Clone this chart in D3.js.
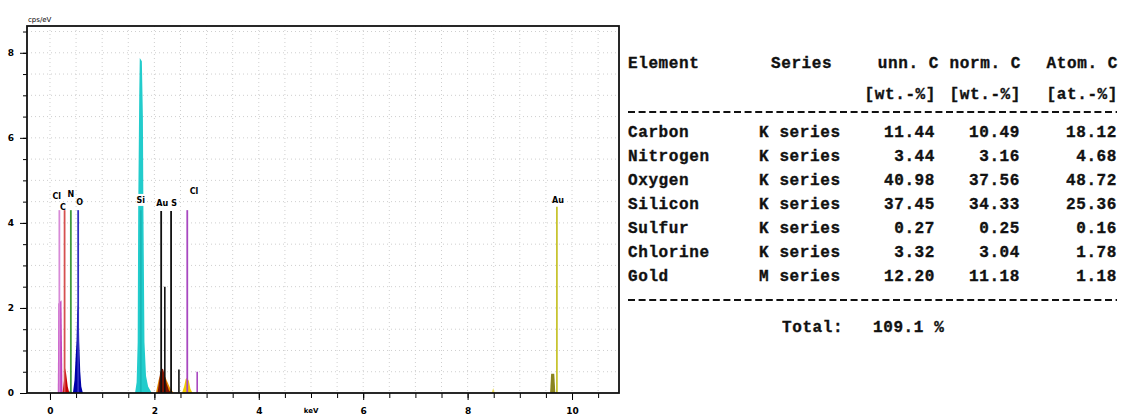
<!DOCTYPE html>
<html>
<head>
<meta charset="utf-8">
<script src="https://cdn.jsdelivr.net/npm/d3@7"></script>
<style>
  body { margin: 0; background: #fff; }
  svg { display: block; }
  .tick text { font-family: "DejaVu Sans", sans-serif; font-weight: bold; font-size: 9px; }
  .tbl { font-family: "Liberation Mono", "DejaVu Sans Mono", monospace; font-weight: bold; font-size: 16px; fill: #111; letter-spacing: 0.6px; stroke: #111; stroke-width: 0.35px; }
</style>
</head>
<body>
<div id="chart"></div>
<script>
var W = 1121, H = 417

// spectrum axes
var xMajor = [0, 2, 4, 6, 8, 10]
var yMajor = [0, 2, 4, 6, 8]

// element marker lines (keV, cps/eV)
var markElem   = ["Cl", "C", "N", "O", "Si", "Au", "S", "Cl", "Au"]
var markEnergy = [0.18, 0.28, 0.40, 0.54, 1.74, 2.13, 2.32, 2.63, 9.71]
var markTop    = [4.3, 4.3, 4.3, 4.3, 4.3, 4.28, 4.28, 4.3, 4.38]
var markColor  = ["#d78ad7", "#d65050", "#3f9a3f", "#3030c0", "#18b8b8", "#111", "#111", "#a848c0", "#c8c430"]
var labelX     = [0.13, 0.25, 0.40, 0.57, 1.74, 2.15, 2.38, 2.76, 9.73]
var labelY     = [4.62, 4.38, 4.68, 4.49, 4.54, 4.47, 4.47, 4.74, 4.54]

// weaker lines (K-beta etc.)
var minorEnergy = [2.20, 2.47, 2.82]
var minorTop    = [2.5, 0.55, 0.5]
var minorColor  = ["#111", "#111", "#a848c0"]

// filled peaks: [keV, cps/eV]
var peakClL = [[0.15, 0], [0.16, 2.1], [0.22, 2.18], [0.24, 0]]
var peakC   = [[0.24, 0], [0.27, 0.3], [0.29, 0.58], [0.31, 0.45], [0.34, 0.15], [0.37, 0]]
var peakN   = [[0.36, 0], [0.39, 0.07], [0.42, 0]]
var peakO   = [[0.44, 0], [0.47, 0.3], [0.49, 0.8], [0.51, 1.25], [0.52, 1.85], [0.54, 2.14], [0.55, 1.9], [0.56, 1.2], [0.58, 0.5], [0.60, 0.15], [0.63, 0]]
var peakSi  = [[1.63, 0], [1.66, 0.25], [1.68, 1.2], [1.69, 4.3], [1.71, 7.0], [1.72, 7.88], [1.76, 7.8], [1.78, 6.5], [1.79, 4.3], [1.81, 1.2], [1.84, 0.4], [1.88, 0.15], [1.95, 0]]
var peakAuMo = [[2.03, 0], [2.08, 0.3], [2.12, 0.45], [2.2, 0.4], [2.3, 0.12], [2.37, 0]]
var peakAuM = [[2.06, 0], [2.09, 0.25], [2.11, 0.48], [2.14, 0.58], [2.17, 0.55], [2.2, 0.4], [2.24, 0.2], [2.28, 0.06], [2.33, 0]]
var peakClK = [[2.53, 0], [2.57, 0.15], [2.6, 0.33], [2.63, 0.36], [2.66, 0.28], [2.69, 0.1], [2.73, 0]]
var peakAuL = [[9.58, 0], [9.60, 0.45], [9.66, 0.45], [9.68, 0]]
var peakX   = [[8.46, 0], [8.49, 0.12], [8.52, 0]]
var peaks = [peakClL, peakC, peakN, peakO, peakSi, peakAuMo, peakAuM, peakClK, peakAuL, peakX]
var peakFill = ["#c040c0", "#c80000", "#2f8f2f", "#0000a8", "#22cccc", "#e88a00", "#7a1200", "#f2cc00", "#8a8420", "#f0e060"]

// quantification table
var tblElement = ["Carbon", "Nitrogen", "Oxygen", "Silicon", "Sulfur", "Chlorine", "Gold"]
var tblSeries  = ["K series", "K series", "K series", "K series", "K series", "K series", "M series"]
var tblUnn     = ["11.44", "3.44", "40.98", "37.45", "0.27", "3.32", "12.20"]
var tblNorm    = ["10.49", "3.16", "37.56", "34.33", "0.25", "3.04", "11.18"]
var tblAtom    = ["18.12", "4.68", "48.72", "25.36", "0.16", "1.78", "1.18"]
var tblTotal   = "109.1 %"

var svg = d3.select("#chart").append("svg")
    .attr("width", W)
    .attr("height", H)

var x = d3.scaleLinear().domain([-0.44, 10.9]).range([27, 619])
var y = d3.scaleLinear().domain([0, 8.63]).range([393, 26])

// dotted grid every 0.5
var gx = d3.range(0, 11, 0.5), gy = d3.range(0.5, 8.6, 0.5)
svg.append("g").selectAll("line").data(gx).enter().append("line")
    .attr("x1", d => x(d)).attr("x2", d => x(d))
    .attr("y1", y(8.63)).attr("y2", y(0))
    .style("stroke", "#cfcfcf").style("stroke-dasharray", "1,3")
svg.append("g").selectAll("line").data(gy).enter().append("line")
    .attr("x1", x(-0.44)).attr("x2", x(10.9))
    .attr("y1", d => y(d)).attr("y2", d => y(d))
    .style("stroke", "#cfcfcf").style("stroke-dasharray", "1,3")

// filled peaks
var area = d3.area().x(d => x(d[0])).y0(y(0)).y1(d => y(d[1]))
svg.append("g").selectAll("path").data(peaks).enter().append("path")
    .attr("d", area)
    .style("fill", (d, i) => peakFill[i])

// minor lines
svg.append("g").selectAll("line").data(minorEnergy).enter().append("line")
    .attr("x1", d => x(d)).attr("x2", d => x(d))
    .attr("y1", y(0)).attr("y2", (d, i) => y(minorTop[i]))
    .style("stroke", (d, i) => minorColor[i]).style("stroke-width", 1.6)

// element marker lines
svg.append("g").selectAll("line").data(markEnergy).enter().append("line")
    .attr("x1", d => x(d)).attr("x2", d => x(d))
    .attr("y1", y(0)).attr("y2", (d, i) => y(markTop[i]))
    .style("stroke", (d, i) => markColor[i]).style("stroke-width", 1.8)

// labels (with white backing like the original)
var lab = svg.append("g").selectAll("g").data(markElem).enter().append("g")
    .attr("transform", (d, i) => "translate(" + x(labelX[i]) + "," + y(labelY[i]) + ")")
lab.filter(d => d == "Si").append("rect")
    .attr("x", -5).attr("y", -6).attr("width", 11).attr("height", 12)
    .style("fill", "#fff")
lab.append("text")
    .attr("text-anchor", "middle")
    .attr("dy", "0.35em")
    .style("font-family", "DejaVu Sans, sans-serif")
    .style("font-weight", "bold")
    .style("font-size", "8px")
    .text(d => d)

// axes
svg.append("g")
    .attr("transform", "translate(0," + y(0) + ")")
    .call(d3.axisBottom(x).tickValues(d3.range(0, 11, 0.5)).tickSize(5).tickFormat(""))
    .call(g => g.select(".domain").remove())
svg.append("g")
    .attr("transform", "translate(0," + y(0) + ")")
    .call(d3.axisBottom(x).tickValues(xMajor).tickSize(7).tickPadding(8).tickFormat(d3.format("d")))
    .call(g => g.select(".domain").remove())
svg.append("g")
    .attr("transform", "translate(" + x(-0.44) + ",0)")
    .call(d3.axisLeft(y).tickValues(d3.range(0.5, 8.6, 0.5)).tickSize(4).tickFormat(""))
    .call(g => g.select(".domain").remove())
svg.append("g")
    .attr("transform", "translate(" + x(-0.44) + ",0)")
    .call(d3.axisLeft(y).tickValues(yMajor).tickSize(7).tickPadding(6).tickFormat(d3.format("d")))
    .call(g => g.select(".domain").remove())

svg.append("rect")
    .attr("x", x(-0.44)).attr("y", y(8.63))
    .attr("width", x(10.9) - x(-0.44)).attr("height", y(0) - y(8.63))
    .style("fill", "none").style("stroke", "#111").style("stroke-width", 1.8)

svg.append("text").attr("x", 28).attr("y", 22)
    .style("font-family", "DejaVu Sans, sans-serif").style("font-size", "7px")
    .text("cps/eV")
svg.append("text").attr("x", x(5)).attr("y", 413).attr("text-anchor", "middle")
    .style("font-family", "DejaVu Sans, sans-serif").style("font-size", "7px").style("font-weight", "bold")
    .text("keV")

// table
var t = svg.append("g").attr("class", "tbl")
function cell(txt, px, py, anchor) {
    t.append("text").attr("x", px).attr("y", py).attr("text-anchor", anchor || "start").text(txt)
}
cell("Element", 628, 68)
cell("Series", 771, 68)
cell("unn. C", 939, 68, "end")
cell("norm. C", 1021, 68, "end")
cell("Atom. C", 1118, 68, "end")
cell("[wt.-%]", 936, 99, "end")
cell("[wt.-%]", 1021, 99, "end")
cell("[at.-%]", 1118, 99, "end")

var rowY = d3.range(tblElement.length).map(i => 137 + i * 24)
tblElement.forEach(function(e, i) {
    cell(e, 628, rowY[i])
    cell(tblSeries[i], 759, rowY[i])
    cell(tblUnn[i], 935, rowY[i], "end")
    cell(tblNorm[i], 1020, rowY[i], "end")
    cell(tblAtom[i], 1117, rowY[i], "end")
})
cell("Total:", 782, 332)
cell(tblTotal, 873, 332)

svg.selectAll(".dash").data([112, 300]).enter().append("line")
    .attr("x1", 628).attr("x2", 1117)
    .attr("y1", d => d).attr("y2", d => d)
    .style("stroke", "#111").style("stroke-width", 2).style("stroke-dasharray", "7,3.6")
</script>
</body>
</html>
